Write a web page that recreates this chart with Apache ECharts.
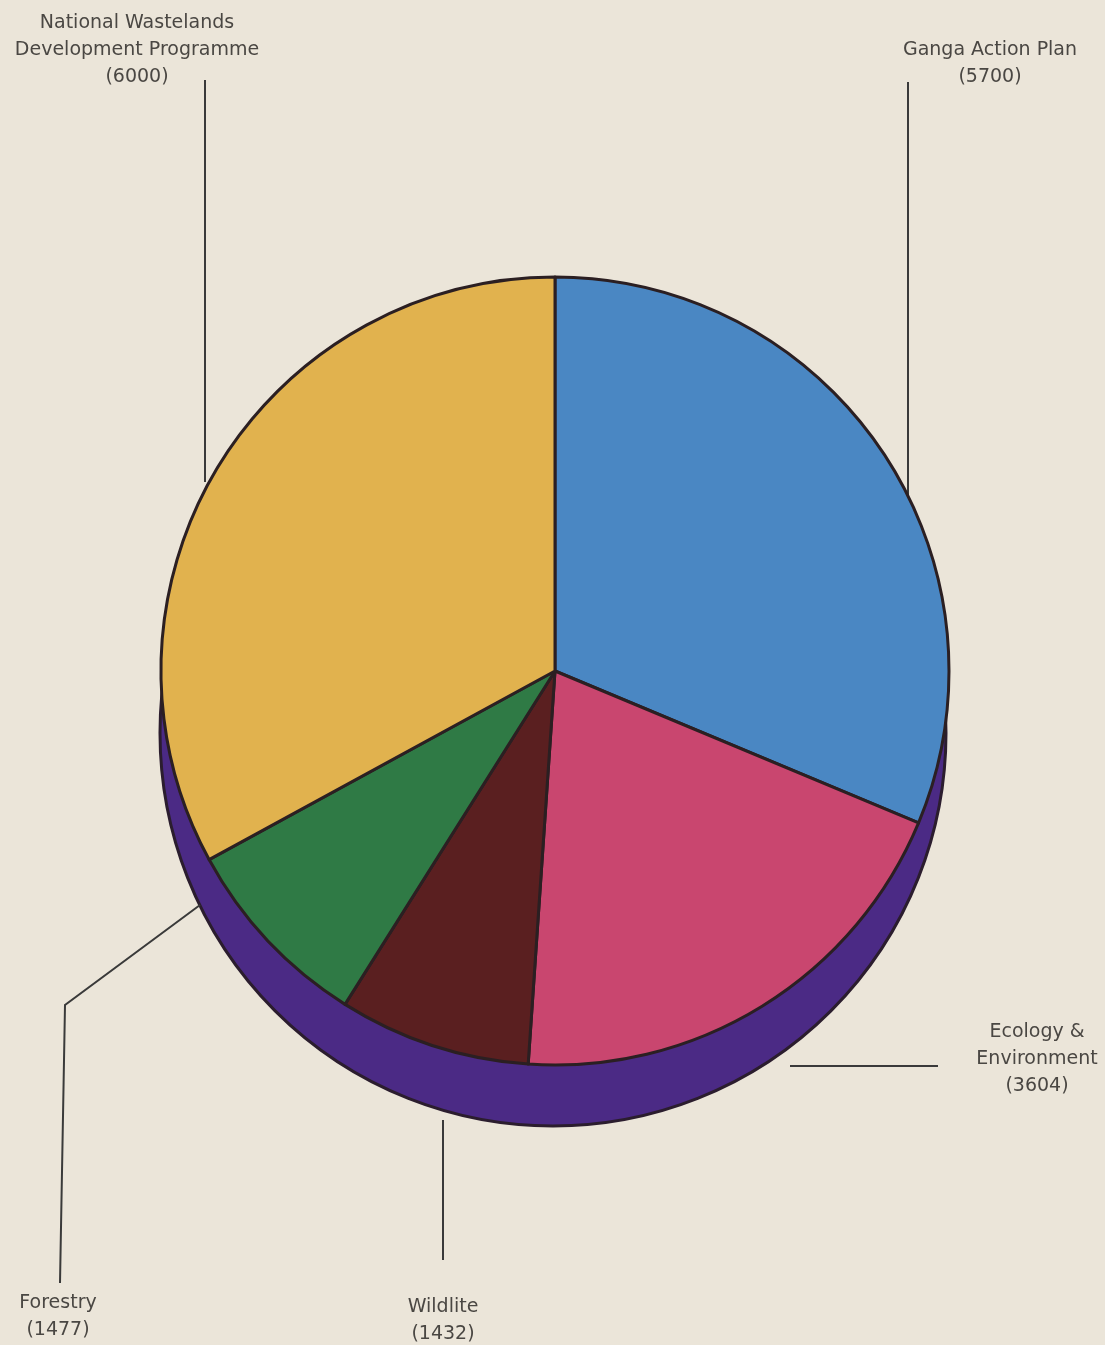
<!DOCTYPE html>
<html>
<head>
<meta charset="utf-8">
<script src="https://cdn.jsdelivr.net/npm/echarts@6/dist/echarts.min.js"></script>
<style>
html,body{margin:0;padding:0;background:#ebe5d9;}
#chart{width:1105px;height:1345px;}
</style>
</head>
<body>
<div id="chart"></div>
<script>
// ---- data ----
const categories = [
  "Ganga Action Plan",
  "Ecology &\nEnvironment",
  "Wildlite",
  "Forestry",
  "National Wastelands\nDevelopment Programme"
];
const values = [5700, 3604, 1432, 1477, 6000];
const colors = ["#4a87c3", "#c9466f", "#5a1f20", "#2f7a45", "#e1b24e"];

// ---- layout of labels & leader lines (presentation only) ----
const labelSpots = [
  { x: 990, y: 37, line: [[908, 82], [908, 300], [908, 502]] },
  { x: 1037, y: 1019, line: [[938, 1066], [860, 1066], [790, 1066]] },
  { x: 443, y: 1294, line: [[443, 1260], [443, 1190], [443, 1120]] },
  { x: 58, y: 1290, line: [[60, 1283], [65, 1005], [200, 905]] },
  { x: 137, y: 10, line: [[205, 80], [205, 280], [205, 482]] }
];

const chart = echarts.init(document.getElementById('chart'));
chart.setOption({
  backgroundColor: '#ebe5d9',
  animation: false,
  series: [
    {
      type: 'pie',
      silent: true,
      center: [553, 733],
      radius: [0, 393],
      z: 1,
      label: { show: false },
      labelLine: { show: false },
      itemStyle: { color: '#4b2a85', borderColor: '#2b1d2e', borderWidth: 3 },
      data: [{ value: 1, name: 'rim' }]
    },
    {
      type: 'pie',
      z: 2,
      center: [555, 671],
      radius: [0, 394],
      startAngle: 90,
      clockwise: true,
      data: categories.map((c, i) => ({ name: c, value: values[i], itemStyle: { color: colors[i] } })),
      itemStyle: { borderColor: '#2b1f22', borderWidth: 3 },
      label: {
        show: true,
        position: 'outer',
        formatter: '{b}\n({c})',
        color: '#4a4743',
        fontFamily: 'DejaVu Sans, Liberation Sans, sans-serif',
        fontSize: 19,
        lineHeight: 27,
        align: 'center',
        overflow: 'none',
        width: 400
      },
      labelLine: {
        show: true,
        smooth: false,
        lineStyle: { color: '#3a3a3a', width: 2 }
      },
      labelLayout: function (p) {
        const s = labelSpots[p.dataIndex];
        return {
          x: s.x,
          y: s.y,
          align: 'center',
          verticalAlign: 'top',
          labelLinePoints: s.line
        };
      }
    }
  ]
});
</script>
</body>
</html>
